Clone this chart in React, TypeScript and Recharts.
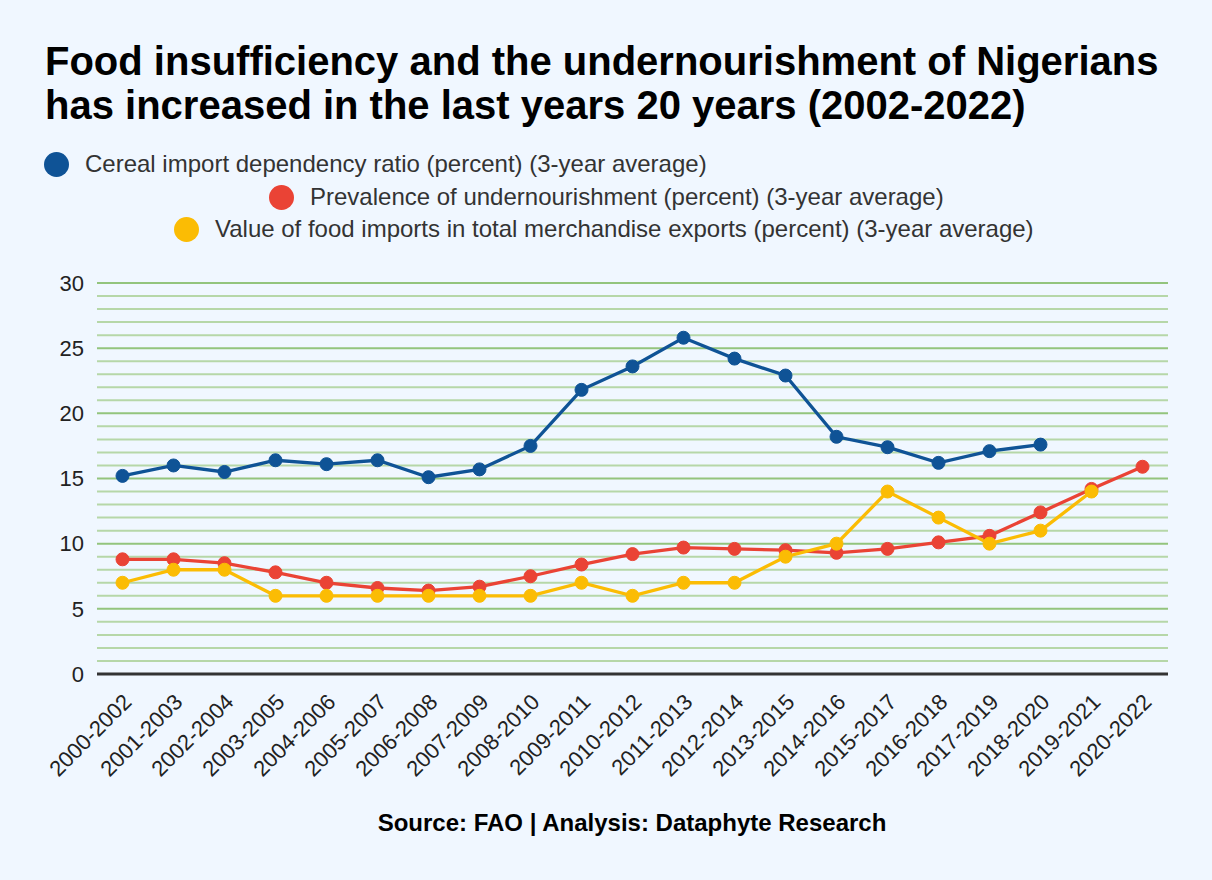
import React from 'react';
import { LineChart, Line, XAxis, YAxis, ReferenceLine } from 'recharts';

const periods = [
  '2000-2002', '2001-2003', '2002-2004', '2003-2005', '2004-2006', '2005-2007',
  '2006-2008', '2007-2009', '2008-2010', '2009-2011', '2010-2012', '2011-2013',
  '2012-2014', '2013-2015', '2014-2016', '2015-2017', '2016-2018', '2017-2019',
  '2018-2020', '2019-2021', '2020-2022',
];

const cerealImport = [
  15.2, 16.0, 15.5, 16.4, 16.1, 16.4, 15.1, 15.7, 17.5, 21.8, 23.6, 25.8,
  24.2, 22.9, 18.2, 17.4, 16.2, 17.1, 17.6, null, null,
];

const undernourishment = [
  8.8, 8.8, 8.5, 7.8, 7.0, 6.6, 6.4, 6.7, 7.5, 8.4, 9.2, 9.7,
  9.6, 9.5, 9.3, 9.6, 10.1, 10.6, 12.4, 14.2, 15.9,
];

const foodImports = [
  7, 8, 8, 6, 6, 6, 6, 6, 6, 7, 6, 7,
  7, 9, 10, 14, 12, 10, 11, 14, null,
];

const yTicks = [0, 5, 10, 15, 20, 25, 30];

const seriesInfo = [
  { key: 'cereal', name: 'Cereal import dependency ratio (percent) (3-year average)', color: '#0f5396' },
  { key: 'under', name: 'Prevalence of undernourishment (percent) (3-year average)', color: '#ea4335' },
  { key: 'food', name: 'Value of food imports in total merchandise exports (percent) (3-year average)', color: '#fbbc04' },
];

const data = periods.map((p, i) => ({
  period: p,
  cereal: cerealImport[i],
  under: undernourishment[i],
  food: foodImports[i],
}));

const FONT = '"Liberation Sans", Arial, sans-serif';

// legend rows are offset like the original wrapped legend
const legendPos = [
  { left: 44, top: 150 },
  { left: 269, top: 183 },
  { left: 174, top: 215 },
];

const XTick = (props: any) => {
  const { x, y, payload } = props;
  return (
    <g transform={`translate(${x + 5},${y + 16})`}>
      <text
        transform="rotate(-45)"
        textAnchor="end"
        dominantBaseline="central"
        fontSize={22}
        fill="#222"
        fontFamily={FONT}
      >
        {payload.value}
      </text>
    </g>
  );
};

const gridLines: number[] = [];
for (let v = 1; v <= 30; v++) gridLines.push(v);

export default function App() {
  return (
    <div
      style={{
        position: 'absolute',
        left: 0,
        top: 0,
        width: 1212,
        height: 880,
        background: '#f0f7ff',
        fontFamily: FONT,
        overflow: 'hidden',
      }}
    >
      <div
        style={{
          position: 'absolute',
          left: 45,
          top: 39,
          fontSize: 40,
          fontWeight: 'bold',
          lineHeight: '44px',
          color: '#000',
          whiteSpace: 'nowrap',
        }}
      >
        Food insufficiency and the undernourishment of Nigerians
        <br />
        has increased in the last years 20 years (2002-2022)
      </div>

      {seriesInfo.map((s, i) => (
        <div
          key={s.key}
          style={{
            position: 'absolute',
            left: legendPos[i].left,
            top: legendPos[i].top,
            display: 'flex',
            alignItems: 'center',
            fontSize: 24,
            color: '#333',
            whiteSpace: 'nowrap',
          }}
        >
          <span
            style={{
              display: 'inline-block',
              width: 25,
              height: 25,
              borderRadius: 13,
              background: s.color,
              marginRight: 16,
            }}
          />
          {s.name}
        </div>
      ))}

      <div style={{ position: 'absolute', left: 0, top: 0 }}>
        <LineChart
          width={1212}
          height={880}
          data={data}
          margin={{ top: 283, right: 44, bottom: 96, left: 47 }}
        >
          <XAxis
            dataKey="period"
            interval={0}
            height={110}
            tickLine={false}
            axisLine={{ stroke: '#333', strokeWidth: 3 }}
            tick={<XTick />}
            padding={{ left: 25.5, right: 25.5 }}
          />
          <YAxis
            type="number"
            domain={[0, 30]}
            ticks={yTicks}
            width={50}
            axisLine={false}
            tickLine={false}
            tickSize={0}
            tickMargin={13}
            tick={{ fontSize: 22, fill: '#222', fontFamily: FONT }}
          />
          {gridLines.map((v) => (
            <ReferenceLine
              key={v}
              y={v}
              stroke={v % 5 === 0 ? '#93c47d' : '#b6d7a8'}
              strokeWidth={2}
              ifOverflow="extendDomain"
            />
          ))}
          {seriesInfo.map((s) => (
            <Line
              key={s.key}
              type="linear"
              dataKey={s.key}
              name={s.name}
              stroke={s.color}
              strokeWidth={3.3}
              dot={{ r: 6.5, fill: s.color, stroke: s.color, strokeWidth: 1 }}
              connectNulls={false}
              isAnimationActive={false}
            />
          ))}
        </LineChart>
      </div>

      <div
        style={{
          position: 'absolute',
          left: 0,
          width: 1264,
          top: 809,
          textAlign: 'center',
          fontSize: 24,
          fontWeight: 'bold',
          color: '#000',
        }}
      >
        Source: FAO | Analysis: Dataphyte Research
      </div>
    </div>
  );
}
